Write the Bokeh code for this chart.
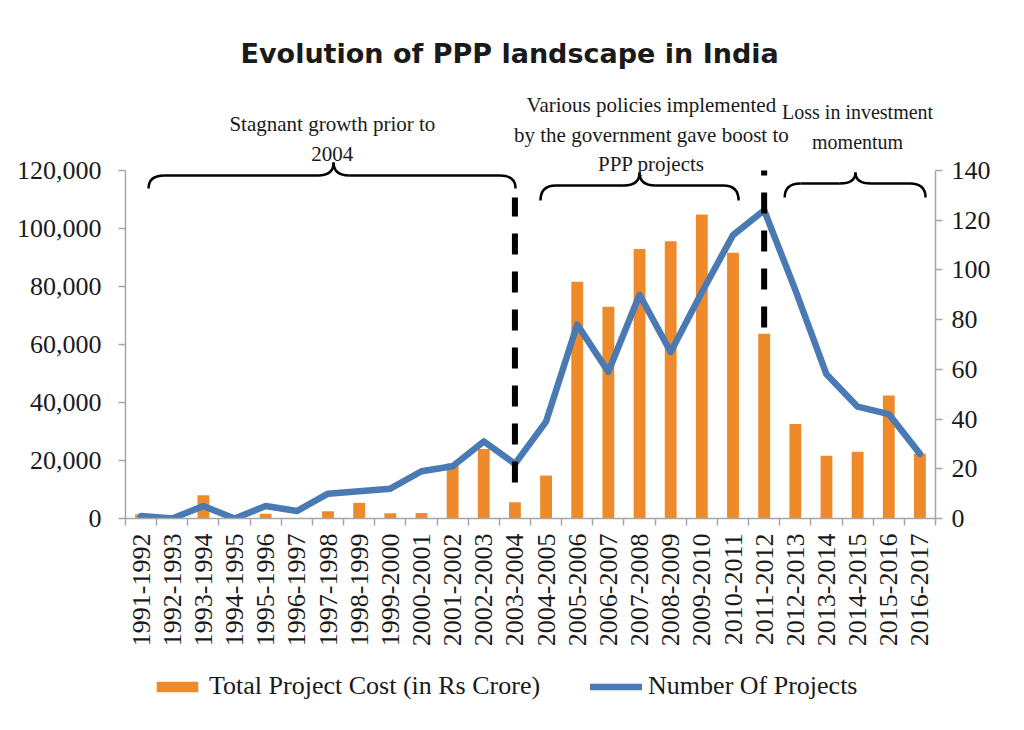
import math
from bokeh.plotting import figure
from bokeh.layouts import column
from bokeh.models import (Range1d, LinearAxis, FixedTicker, NumeralTickFormatter,
                          Legend, LegendItem, Label)
from bokeh.embed import file_html
from bokeh.resources import INLINE

# ---------------- data ----------------
years = ["1991-1992", "1992-1993", "1993-1994", "1994-1995", "1995-1996", "1996-1997",
         "1997-1998", "1998-1999", "1999-2000", "2000-2001", "2001-2002", "2002-2003",
         "2003-2004", "2004-2005", "2005-2006", "2006-2007", "2007-2008", "2008-2009",
         "2009-2010", "2010-2011", "2011-2012", "2012-2013", "2013-2014", "2014-2015",
         "2015-2016", "2016-2017"]
project_cost = [1500, 0, 8000, 0, 1600, 0, 2500, 5400, 1800, 1900, 19000, 24000,
                5600, 14800, 81600, 73000, 92900, 95600, 104800, 91600, 63700, 32600,
                21600, 23000, 42400, 22300]
num_projects = [1, 0, 5, 0, 5, 3, 10, 11, 12, 19, 21, 31, 22, 39, 78, 59, 90, 67,
                91, 114, 124, 92, 58, 45, 42, 26]
left_ticks = [0, 20000, 40000, 60000, 80000, 100000, 120000]
right_ticks = [0, 20, 40, 60, 80, 100, 120, 140]
series_names = ["Total Project Cost (in Rs Crore)", "Number Of Projects"]

title_text = "Evolution of PPP landscape in India"
notes = [  # text, x (category units), pixel row of baseline, font px
    ("Stagnant growth prior to", 6.64, 123, 21),
    ("2004", 6.64, 153, 21),
    ("Various policies implemented", 16.88, 104, 21),
    ("by the government gave boost to", 16.88, 134, 21),
    ("PPP projects", 16.88, 163, 21),
    ("Loss in investment", 23.5, 111, 20),
    ("momentum", 23.5, 141, 20),
]

# ---------------- layout helpers ----------------
W, H = 1016, 655
FRAME_BOTTOM = 518           # canvas px of y=0
AXIS_TOP_PX = 170            # canvas px of top tick
FRAME_LEFT, FRAME_RIGHT = 125, 935
LEFT_MAX, RIGHT_MAX = 120000, 140
Y_END = LEFT_MAX * FRAME_BOTTOM / (FRAME_BOTTOM - AXIS_TOP_PX)
R_END = RIGHT_MAX * FRAME_BOTTOM / (FRAME_BOTTOM - AXIS_TOP_PX)


def ydat(py):
    """pixel row -> left-axis data units (for annotations only)"""
    return (FRAME_BOTTOM - py) * LEFT_MAX / (FRAME_BOTTOM - AXIS_TOP_PX)


SERIF = "Liberation Serif"
ORANGE = "#EF8A2A"
BLUE = "#4A7AB4"
AXIS_GRAY = "#A6A6A6"
TXT = "#1a1a1a"

n = len(years)
xc = [i + 0.5 for i in range(n)]

p = figure(width=W, height=H, output_backend="svg", toolbar_location=None,
           x_range=Range1d(0, n), y_range=Range1d(0, Y_END),
           min_border_left=FRAME_LEFT, min_border_right=W - FRAME_RIGHT, min_border_top=0,
           min_border_bottom=H - FRAME_BOTTOM, x_axis_location=None, y_axis_location=None)
p.outline_line_color = None
p.xgrid.visible = False
p.ygrid.visible = False
p.extra_y_ranges = {"n": Range1d(0, R_END)}

# axes
xax = LinearAxis(ticker=FixedTicker(ticks=xc, minor_ticks=list(range(n + 1))))
xax.major_label_overrides = {x: y for x, y in zip(xc, years)}
xax.major_label_orientation = math.pi / 2
xax.major_tick_line_color = None
xax.major_tick_out = 0
xax.minor_tick_out = 7
xax.minor_tick_in = 0
xax.minor_tick_line_color = AXIS_GRAY
xax.minor_tick_line_width = 1.5
xax.axis_line_color = AXIS_GRAY
xax.axis_line_width = 1.5
xax.major_label_text_font = SERIF
xax.major_label_text_font_size = "26px"
xax.major_label_text_color = TXT
xax.major_label_standoff = 8
p.add_layout(xax, "below")

yax = LinearAxis(ticker=FixedTicker(ticks=left_ticks), bounds=(0, LEFT_MAX),
                 formatter=NumeralTickFormatter(format="0,0"))
yax2 = LinearAxis(y_range_name="n", ticker=FixedTicker(ticks=right_ticks), bounds=(0, RIGHT_MAX))
for ax, so in ((yax, 17), (yax2, 9)):
    ax.major_tick_out = 7
    ax.major_tick_in = 0
    ax.minor_tick_line_color = None
    ax.major_tick_line_color = AXIS_GRAY
    ax.major_tick_line_width = 1.5
    ax.axis_line_color = AXIS_GRAY
    ax.axis_line_width = 1.5
    ax.major_label_text_font = SERIF
    ax.major_label_text_font_size = "26px"
    ax.major_label_text_color = TXT
    ax.major_label_standoff = so
p.add_layout(yax, "left")
p.add_layout(yax2, "right")

# data marks
bar_style = dict(fill_color=ORANGE, line_color=None)
line_style = dict(line_color=BLUE, line_width=6.5, line_join="round", line_cap="round")
p.vbar(x=xc, top=project_cost, width=0.38, **bar_style)
p.line(x=xc, y=num_projects, y_range_name="n", **line_style)

# dashed separators at 2003-2004 and 2011-2012
sep_idx = [years.index("2003-2004"), years.index("2011-2012")]
p.segment(x0=[xc[i] for i in sep_idx], x1=[xc[i] for i in sep_idx],
          y0=[ydat(482), ydat(327)], y1=[ydat(197), ydat(170)],
          line_color="black", line_width=6, line_dash="21 17")

# curly braces
braces = [  # x-left, x-right, x-tip (category units), pixel rows: ends, flat, tip
    (0.74, 12.52, 6.68, 188, 175, 162),
    (13.32, 19.68, 16.5, 200, 185, 172),
    (21.16, 25.68, 23.43, 197, 183, 172),
]
r = 0.5
qx0, qy0, qx1, qy1, qcx, qcy = [], [], [], [], [], []
sx0, sy0, sx1, sy1 = [], [], [], []
for a, b, t, pe, pf, pt in braces:
    ye, yf, yt = ydat(pe), ydat(pf), ydat(pt)
    segs = [((a, ye), (a + r, yf), (a, yf)),
            ((t - r, yf), (t, yt), (t, yf)),
            ((t, yt), (t + r, yf), (t, yf)),
            ((b - r, yf), (b, ye), (b, yf))]
    for (x0, y0), (x1, y1), (cx, cy) in segs:
        qx0.append(x0); qy0.append(y0); qx1.append(x1); qy1.append(y1)
        qcx.append(cx); qcy.append(cy)
    sx0 += [a + r, t + r]; sx1 += [t - r, b - r]; sy0 += [yf, yf]; sy1 += [yf, yf]
p.quadratic(x0=qx0, y0=qy0, x1=qx1, y1=qy1, cx=qcx, cy=qcy, line_color="black", line_width=2.5)
p.segment(x0=sx0, y0=sy0, x1=sx1, y1=sy1, line_color="black", line_width=2.5)

# annotation texts
for txt, x, py, fs in notes:
    p.add_layout(Label(x=x, y=ydat(py), text=txt, text_align="center",
                       text_baseline="alphabetic", text_font=SERIF,
                       text_font_size=f"{fs}px", text_color=TXT))

p.add_layout(Label(x=12.33, y=ydat(53), text=title_text, text_align="center",
                   text_baseline="alphabetic", text_font="DejaVu Sans",
                   text_font_style="bold", text_font_size="27px", text_color="#1a1a1a"))

# ---------------- legend strip (frame aligned with main plot) ----------------
LH = 60
lp = figure(width=W, height=LH, output_backend="svg", toolbar_location=None,
            x_range=Range1d(-3, -2), y_range=Range1d(0, 1),
            min_border=0, x_axis_location=None, y_axis_location=None)
lp.outline_line_color = None
lp.xgrid.visible = False
lp.ygrid.visible = False
# same series, hidden here; used only to style the legend glyphs
lb = lp.vbar(x=xc, top=project_cost, width=0.38, visible=False, **bar_style)
ll = lp.line(x=xc, y=num_projects, visible=False, **line_style)
legend = Legend(items=[LegendItem(label=series_names[0], renderers=[lb]),
                       LegendItem(label=series_names[1], renderers=[ll])],
                orientation="horizontal", location=(26, 14),
                label_text_font=SERIF, label_text_font_size="26px", label_text_color=TXT,
                glyph_width=52, glyph_height=13, spacing=50, label_standoff=6,
                inactive_fill_alpha=0,
                border_line_color=None, background_fill_alpha=0, padding=0, margin=0)
lp.add_layout(legend, "center")

open("out.html", "w").write(file_html(column(p, lp, spacing=0), INLINE))
